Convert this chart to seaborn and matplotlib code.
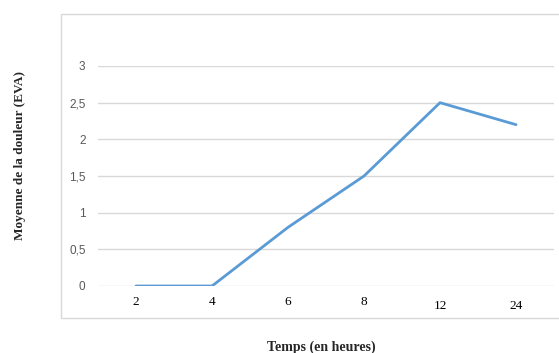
import matplotlib
matplotlib.use("Agg")
import matplotlib.pyplot as plt
from matplotlib.patches import Rectangle
from matplotlib.transforms import ScaledTranslation
import seaborn as sns
import pandas as pd

# Pain score over time
hours = ["2", "4", "6", "8", "12", "24"]
pain_mean = [0, 0, 0.8, 1.5, 2.5, 2.2]
y_ticks = [0, 0.5, 1, 1.5, 2, 2.5, 3]
y_tick_labels = ["0", "0,5", "1", "1,5", "2", "2,5", "3"]

df = pd.DataFrame({"Temps": hours, "Douleur": pain_mean})

sns.set_theme(style="white")
W, H = 559, 353
fig = plt.figure(figsize=(W / 100, H / 100), dpi=100)
fig.patch.set_facecolor("white")

# chart frame
fig.patches.append(Rectangle((61 / W, 1 - 318 / H), (W - 61 + 5) / W, (318 - 14) / H,
                             transform=fig.transFigure, fill=False,
                             edgecolor="#D9D9D9", linewidth=1.0, zorder=0))

ax = fig.add_axes([98 / W, 1 - 286 / H, 456 / W, (286 - 66) / H])
ax.set_facecolor("none")

sns.lineplot(data=df, x="Temps", y="Douleur", ax=ax, color="#5B9BD5",
             linewidth=2.0, sort=False)

ax.set_xlim(-0.5, len(hours) - 0.5)
ax.set_ylim(0, 3)
ax.set_yticks(y_ticks)
ax.set_yticklabels(y_tick_labels, fontfamily="Liberation Sans", fontsize=8.5, color="#595959")
ax.set_xticks(range(len(hours)))
ax.set_xticklabels(hours, fontfamily="Liberation Serif", fontsize=9.5, color="black")
ax.tick_params(axis="x", length=0, pad=7)
ax.tick_params(axis="y", length=0, pad=9)

# the two-digit hour labels sit a little lower
for lab in ax.get_xticklabels()[4:]:
    lab.set_transform(lab.get_transform() + ScaledTranslation(0, -3 / 72, fig.dpi_scale_trans))

ax.grid(axis="y", color="#D9D9D9", linewidth=1.0)
ax.set_axisbelow(True)
for s in ax.spines.values():
    s.set_visible(False)

ax.set_xlabel("")
ax.set_ylabel("")

fig.text(321 / W, 1 - 347 / H, "Temps (en heures)", ha="center", va="center",
         fontfamily="Liberation Serif", fontweight="bold", fontsize=10)
fig.text(20 / W, 1 - 156 / H, "Moyenne de la douleur (EVA)", ha="center", va="center",
         rotation=90, fontfamily="Liberation Serif", fontweight="bold", fontsize=9.5)

fig.savefig("out.png", dpi=100)
